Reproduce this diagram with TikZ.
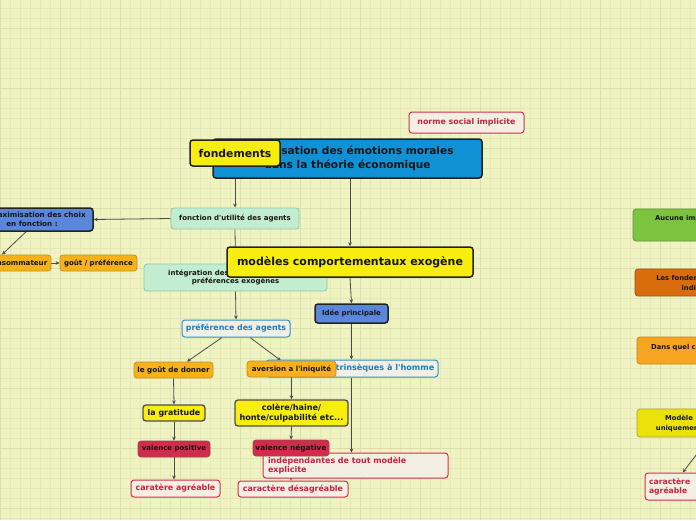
\documentclass[tikz,border=0pt]{standalone}
\usepackage{fontspec}
\setmainfont{DejaVu Sans}
\usetikzlibrary{arrows.meta,calc}
\newcommand\sq{\textquotesingle}
\definecolor{bg}{HTML}{EFF2C1}
\definecolor{gminor}{HTML}{E5E8B6}
\definecolor{gmajor}{HTML}{DCDFA9}
\definecolor{tblue}{HTML}{1191D5}
\definecolor{ylw}{HTML}{F7EE10}
\definecolor{mblue}{HTML}{5B87DA}
\definecolor{lgreen}{HTML}{C3EDD1}
\definecolor{lgreenD}{HTML}{8EC7A6}
\definecolor{orng}{HTML}{F6B11B}
\definecolor{orngD}{HTML}{C0912A}
\definecolor{crim}{HTML}{D32B4B}
\definecolor{crimD}{HTML}{8F4A55}
\definecolor{cream}{HTML}{F3F0E3}
\definecolor{crtxt}{HTML}{C9213F}
\definecolor{crborder}{HTML}{D0304B}
\definecolor{bltxt}{HTML}{1A7DC0}
\definecolor{blborder}{HTML}{2B90CC}
\definecolor{dk}{HTML}{222222}
\definecolor{txt}{HTML}{161616}
\definecolor{edgec}{HTML}{4A4A4A}
\definecolor{rgreen}{HTML}{7CC43F}
\definecolor{rgreenD}{HTML}{5E9435}
\definecolor{rdor}{HTML}{D96C0D}
\definecolor{rdorD}{HTML}{9B4F12}
\definecolor{ror}{HTML}{F5A521}
\definecolor{rorD}{HTML}{C08020}
\definecolor{ryl}{HTML}{EBE20C}
\definecolor{rylD}{HTML}{A8A230}
\pgfdeclarelayer{gridl}
\pgfdeclarelayer{edges}
\pgfsetlayers{gridl,edges,main}
\tikzset{
  box/.style={rectangle, rounded corners=3pt, inner sep=0pt, align=center, text=txt,
    font=\bfseries\fontsize{7}{8.5}\selectfont},
  darkbox/.style={box, draw=dk, line width=1.5pt},
  gbox/.style={box, fill=lgreen, draw=lgreenD, line width=0.8pt},
  obox/.style={box, fill=orng, draw=orngD, line width=0.7pt, font=\bfseries\fontsize{7.1}{8.5}\selectfont},
  rbox/.style={box, fill=crim, draw=crimD, line width=0.7pt, font=\bfseries\fontsize{7}{8.5}\selectfont},
  ybox/.style={box, fill=ylw, draw=dk!80, line width=1.3pt, font=\bfseries\fontsize{7.9}{9.5}\selectfont},
  crbox/.style={box, fill=cream, draw=crborder, line width=1pt, text=crtxt,
    font=\bfseries\fontsize{7.9}{9.5}\selectfont},
  bbox/.style={box, fill=cream, draw=blborder, line width=1pt, text=bltxt,
    font=\bfseries\fontsize{7.9}{9.5}\selectfont},
  sidebox/.style={box, line width=0.7pt},
  sidetext/.style={inner sep=0pt, text=txt, align=center, font=\bfseries\fontsize{6.8}{10}\selectfont},
  arr/.style={draw=edgec, line width=0.8pt, -{Stealth[length=4pt,width=3.6pt]}},
}
\begin{document}
\begin{tikzpicture}[x=1pt,y=-1pt]
\useasboundingbox (0,0) rectangle (696,520);
\clip (0,0) rectangle (696,520);
\begin{pgfonlayer}{gridl}
\fill[bg] (0,0) rectangle (696,520);
\foreach \x in {0,10,...,690} \draw[gminor, line width=0.5pt] (\x,0) -- (\x,520);
\foreach \y in {8,18,...,518} \draw[gminor, line width=0.5pt] (0,\y) -- (696,\y);
\foreach \x in {0,60,...,690} \draw[gmajor, line width=0.8pt] (\x,0) -- (\x,520);
\foreach \y in {28,88,...,518} \draw[gmajor, line width=0.8pt] (0,\y) -- (696,\y);
\end{pgfonlayer}

% nodes
\node[darkbox, fill=tblue, minimum width=269pt, minimum height=39pt,
  font=\bfseries\fontsize{10.6}{14}\selectfont] (title) at (347.5,158.5)
  {Modélisation des émotions morales\\dans la théorie économique};
\node[darkbox, fill=ylw, minimum width=90pt, minimum height=26pt,
  font=\bfseries\fontsize{10.8}{12}\selectfont] (fond) at (235,153) {fondements};
\node[crbox, minimum width=115pt, minimum height=21pt, font=\bfseries\fontsize{7.9}{9}\selectfont]
  (norme) at (466.5,122.5) {norme social implicite};
\node[gbox, minimum width=128pt, minimum height=21pt] (fu) at (235,218.5) {fonction d\sq utilité des agents};
\node[darkbox, fill=mblue, minimum width=122pt, minimum height=23pt,
  font=\bfseries\fontsize{7.2}{9}\selectfont] (max) at (32,219.5) {La maximisation des choix\\en fonction :};
\node[obox, minimum width=67pt, minimum height=16pt] (cons) at (17.5,263) {consommateur};
\node[obox, minimum width=77pt, minimum height=16pt, font=\bfseries\fontsize{7}{8.5}\selectfont] (gout) at (98.5,263) {goût / préférence};
\node[gbox, minimum width=183pt, minimum height=27pt] (integ) at (235.5,277.5)
  {intégration des émotions dans les\\préférences exogènes};
\node[darkbox, fill=ylw, minimum width=246pt, minimum height=30pt,
  font=\bfseries\fontsize{11}{13}\selectfont] (mod) at (350,262) {modèles comportementaux exogène};
\node[bbox, minimum width=108pt, minimum height=17pt] (pref) at (236,328.5) {préférence des agents};
\node[darkbox, fill=mblue, minimum width=73pt, minimum height=19pt,
  font=\bfseries\fontsize{7}{8}\selectfont] (idee) at (351.5,313.5) {Idée principale};
\node[bbox, minimum width=172pt, minimum height=17pt, font=\bfseries\fontsize{8.1}{9.5}\selectfont]
  (intr) at (352,368.5) {préférences intrinsèques à l\sq homme};
\node[obox, minimum width=79pt, minimum height=16pt, font=\bfseries\fontsize{7.2}{8.5}\selectfont] (gdon) at (173.5,370) {le goût de donner};
\node[obox, minimum width=89pt, minimum height=16pt]
  (avers) at (291.5,369) {aversion a l\sq iniquité};
\node[ybox, minimum width=62pt, minimum height=16pt] (grat) at (174,413) {la gratitude};
\node[ybox, minimum width=113pt, minimum height=26pt, font=\bfseries\fontsize{8.1}{9.5}\selectfont] (colere) at (291.5,413) {colère/haine/\\honte/culpabilité etc...};
\node[crbox, minimum width=185pt, minimum height=25pt, text width=175pt, align=left,
  font=\bfseries\fontsize{8}{9.5}\selectfont] (indep) at (355.5,465.5) {indépendantes de tout modèle\\explicite};
\node[rbox, minimum width=72pt, minimum height=16pt] (vpos) at (174,449) {valence positive};
\node[rbox, minimum width=76pt, minimum height=16pt, font=\bfseries\fontsize{7.4}{8.5}\selectfont] (vneg) at (291,448) {valence négative};
\node[crbox, minimum width=89pt, minimum height=17pt] (cagre) at (175.5,488.5) {caratère agréable};
\node[crbox, minimum width=110pt, minimum height=16pt] (cdes) at (293,489) {caractère désagréable};

% right side (cut by the border)
\node[sidebox, fill=rgreen, draw=rgreenD, minimum width=90pt, minimum height=32pt] (auc) at (678,225) {};
\node[sidetext, anchor=west] (auct) at (655,219) {Aucune implication};
\node[sidebox, fill=rdor, draw=rdorD, minimum width=90pt, minimum height=27pt] (lfon) at (680,282.5) {};
\node[sidetext] (lfont) at (702.5,282.5) {Les fondements moraux\\individuels};
\node[sidebox, fill=ror, draw=rorD, minimum width=90pt, minimum height=27pt] (dqc) at (682,350.5) {};
\node[sidetext, anchor=west] (dqct) at (651,348) {Dans quel cadre};
\node[sidebox, fill=ryl, draw=rylD, minimum width=90pt, minimum height=28pt] (modu) at (682,423) {};
\node[sidetext] (modut) at (679,423.5) {Modèle\\uniquement};
\node[crbox, minimum width=54pt, minimum height=27pt, text width=46pt, align=left,
  font=\bfseries\fontsize{7.7}{9.5}\selectfont] (cagr2) at (672,486.5) {caractère\\agréable};
\coordinate (rsrc) at (700,450);

% edges
\begin{pgfonlayer}{edges}
\draw[arr] (fu.north |- title.south) -- (fu.north);
\draw[arr] (mod.north |- title.south) -- (mod.north);
\draw[arr] (fu.west) -- (max.east);
\draw[arr] (fu.south) -- (integ.north);
\draw[arr] ($(max.south)+(-6,0)$) -- ($(cons.north)+(-15.5,0)$);
\draw[arr] (cons.east) -- (gout.west);
\draw[arr] (mod.south) -- (idee.north);
\draw[arr] (integ.south) -- (pref.north);
\draw[arr] (idee.south) -- (idee.south |- intr.north);
\draw[arr] ($(pref.south)+(-14,0)$) -- ($(gdon.north)+(13.5,0)$);
\draw[arr] ($(pref.south)+(14,0)$) -- ($(avers.north)+(-10.5,0)$);
\draw[arr] (idee.south |- intr.south) -- (idee.south |- indep.north);
\draw[arr] (gdon.south) -- (grat.north);
\draw[arr] (avers.south) -- (colere.north);
\draw[arr] (grat.south) -- (vpos.north);
\draw[arr] (colere.south) -- (vneg.north);
\draw[arr] (vpos.south) -- (vpos.south |- cagre.north);
\draw[arr] (vneg.south) -- (vneg.south |- cdes.north);
\draw[arr] (rsrc) -- (cagr2);
\end{pgfonlayer}
\end{tikzpicture}
\end{document}
